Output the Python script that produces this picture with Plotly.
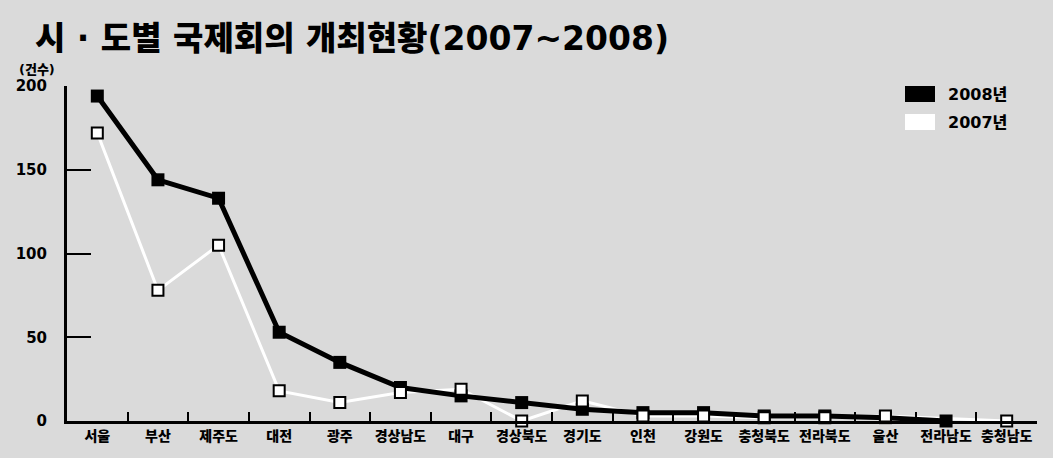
import plotly.graph_objects as go

# 시·도별 국제회의 개최 건수
regions = ["서울", "부산", "제주도", "대전", "광주", "경상남도", "대구", "경상북도",
           "경기도", "인천", "강원도", "충청북도", "전라북도", "울산", "전라남도", "충청남도"]
count_2008 = [194, 144, 133, 53, 35, 20, 15, 11, 7, 5, 5, 3, 3, 2, 0, None]
count_2007 = [172, 78, 105, 18, 11, 17, 19, 0, 12, 3, 3, 2, 2, 3, None, 0]
y_ticks = [0, 50, 100, 150, 200]

BG = "#dadada"
FONT = "DejaVu Sans, Noto Sans CJK KR, sans-serif"

fig = go.Figure()

# 2007 connecting line (white)
fig.add_trace(go.Scatter(
    x=regions, y=count_2007, mode="lines", connectgaps=True,
    line=dict(color="white", width=3), hoverinfo="skip", showlegend=False,
))
# 2008 line with filled squares
fig.add_trace(go.Scatter(
    x=regions, y=count_2008, mode="lines+markers", name="2008년",
    line=dict(color="black", width=5),
    marker=dict(symbol="square", size=13, color="black"),
    showlegend=False, cliponaxis=False,
))
# 2007 hollow squares on top
fig.add_trace(go.Scatter(
    x=regions, y=count_2007, mode="markers", name="2007년",
    marker=dict(symbol="square", size=11, color="white",
                line=dict(color="black", width=2)),
    showlegend=False, cliponaxis=False,
))

fig.update_layout(
    width=1053, height=458,
    margin=dict(l=67, r=16, t=86, b=37),
    paper_bgcolor=BG, plot_bgcolor=BG,
    font=dict(family=FONT, color="black"),
    title=dict(
        text="시 · 도별 국제회의 개최현황(2007~2008)",
        xref="container", yref="container", x=35 / 1053, y=1 - 38 / 458,
        xanchor="left", yanchor="middle",
        font=dict(size=33, family=FONT, color="black", weight=900),
    ),
    xaxis=dict(
        type="category", range=[-0.5, 15.5], automargin=False,
        showline=True, linecolor="black", linewidth=3,
        ticks="inside", tickson="boundaries", ticklen=9, tickwidth=2, tickcolor="black",
        showgrid=False, zeroline=False, tickangle=0,
        tickfont=dict(size=14, weight=900, family=FONT),
    ),
    yaxis=dict(
        range=[0, 200], tickvals=y_ticks, automargin=False,
        showline=True, linecolor="black", linewidth=3,
        ticks="inside", ticklen=24, tickwidth=2, tickcolor="black",
        showgrid=False, zeroline=False,
        ticklabelstandoff=14,
        tickfont=dict(size=15, weight=900, family=FONT),
    ),
)

# axis unit label
fig.add_annotation(
    text="(건수)", xref="paper", yref="paper",
    x=(17 - 67) / 970, y=(421 - 70) / 335, xanchor="left", yanchor="middle",
    showarrow=False, font=dict(size=13, family=FONT, weight=900),
)

# legend swatches and labels
legend_items = [("2008년", "black", 94), ("2007년", "white", 122)]
for label, color, yc in legend_items:
    fig.add_shape(
        type="rect", xref="paper", yref="paper",
        x0=(905 - 67) / 970, x1=(935 - 67) / 970,
        y0=(421 - (yc + 8)) / 335, y1=(421 - (yc - 8)) / 335,
        fillcolor=color, line=dict(width=0),
    )
    fig.add_annotation(
        text=label, xref="paper", yref="paper",
        x=(946 - 67) / 970, y=(421 - yc) / 335, xanchor="left", yanchor="middle",
        showarrow=False, font=dict(size=16, family=FONT, weight=900),
    )

fig.write_html("out.html")
